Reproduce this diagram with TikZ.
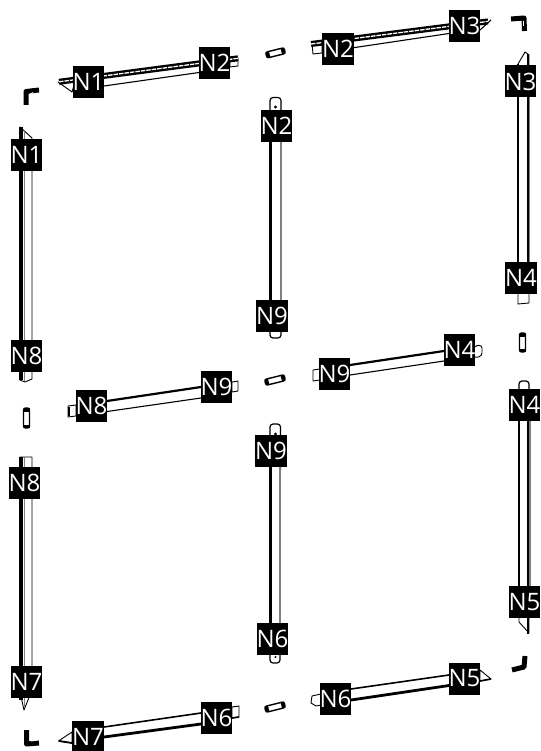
\documentclass[tikz,border=0pt]{standalone}
\usepackage{fontspec}
\setmainfont{Open Sans}
\tikzset{
  lab/.style={fill=black,text=white,inner sep=0pt,minimum width=31pt,minimum height=32pt,font=\fontsize{24}{24}\selectfont},
  hair/.style={draw=black,line width=0.9pt,fill=white,line join=round},
  tab/.style={draw=black,line width=1.2pt,fill=white,rounded corners=3pt},
  heavy/.style={draw=black,line width=2.2pt},
  thinline/.style={draw=black,line width=1.1pt},
  greyline/.style={draw=black!50,line width=1.6pt},
  band/.style={draw=black,line width=6pt},
  bandgap/.style={draw=white,line width=1.3pt,dash pattern=on 4.5pt off 1pt},
  pin/.style={draw=black,line width=1.4pt,fill=white,rounded corners=2pt},
  pinend/.style={fill=black},
  corner/.style={draw=black,line width=5pt,line join=round},
  cornerhi/.style={draw=white,line width=0.9pt}
}
\begin{document}
\begin{tikzpicture}[x=1pt,y=-1pt]
\useasboundingbox (0,0) rectangle (540,751);
% left upper vertical
\draw[hair] (20,127) -- (32,138) -- (32,379) -- (25,382) -- (20,380) -- cycle;
\fill (19,127) rectangle (22.5,380);
\draw[greyline] (24.5,131) -- (24.5,381);
% left lower vertical
\draw[hair] (20,457) -- (32,457) -- (32,690) -- (24,710) -- (20,692) -- cycle;
\fill (19,457) rectangle (22.5,700);
\draw[greyline] (24.5,457) -- (24.5,708);
% mid upper vertical
\draw[tab] (270,150) -- (270,97.5) -- (281,97.5) -- (281,150);
\draw[tab] (270,300) -- (270,338) -- (281,338) -- (281,300);
\fill (269,140) rectangle (272,305);
\draw[greyline] (281,140) -- (281,305);
\fill (275.5,107) circle (1.6);
% mid lower vertical
\draw[tab] (270,470) -- (270,424) -- (280.5,424) -- (280.5,470);
\draw[tab] (270,620) -- (270,663) -- (280,663) -- (280,620);
\fill (269,465) rectangle (272,625);
\draw[greyline] (280,465) -- (280,625);
\fill (275.5,434) circle (1.6);
\fill (275.5,657) circle (1.2);
% right upper vertical
\draw[hair] (518,64) -- (525,52) -- (529,55) -- (529,303) -- (518,304) -- cycle;
\fill (517,64) rectangle (519.3,290);
\fill (526.5,54) rectangle (528.5,290);
\draw[greyline] (529.5,65) -- (529.5,290);
% right lower vertical
\draw[tab] (519,420) -- (519,381) -- (529,381) -- (529,420);
\draw[hair] (519,400) -- (519,622) -- (529,633) -- (529,400);
\fill (518,392) rectangle (520.3,600);
\fill (527,392) rectangle (529,634);
\draw[greyline] (530,392) -- (530,590);
% top-left rail
\draw[hair] (58,82) -- (72,92) -- (75,82) -- cycle;
\draw[hair] (230,67) -- (238,66) -- (238,58) -- (230,59) -- cycle;
\draw[band] (59,81.8) -- (238,58.3);
\draw[bandgap] (59,81.8) -- (238,58.3);
\draw[thinline] (104,86) -- (199,72.5);
% top-right rail
\draw[hair] (312,44) -- (313,54) -- (322,53) -- (322,43) -- cycle;
\draw[band] (311,44) -- (488,21.4);
\draw[bandgap] (311,44) -- (488,21.4);
\draw[thinline] (353,47.8) -- (449,33.5);
\draw[thinline] (480,30) -- (491,20);
% middle-left rail
\draw[hair] (68,406) -- (68,417) -- (76,416) -- (76,405) -- cycle;
\draw[hair] (232,382) -- (238,381) -- (238,391) -- (232,392) -- cycle;
\draw[line width=2.2pt,black] (69,407) -- (69,416);
\draw[heavy] (107,401) -- (201,387);
\draw[thinline] (107,411.5) -- (201,398);
% middle-right rail
\draw[hair,rounded corners=3pt] (474,346) -- (482,345) -- (482,356) -- (474,358) -- cycle;
\draw[hair] (313,370) -- (313,381) -- (320,380) -- (320,369) -- cycle;
\draw[heavy] (350,365) -- (444,351);
\draw[thinline] (350,375) -- (444,361);
% bottom-left rail
\draw[hair] (58.5,741) -- (72,732) -- (72,743) -- cycle;
\draw[line width=1.8pt] (59,741) -- (72,743);
\draw[hair] (232,707) -- (239,706) -- (239,717) -- (232,718) -- cycle;
\draw[line width=1.6pt] (232,718) -- (239,717);
\draw[line width=1.6pt] (104,727) -- (201,713);
\draw[line width=2.8pt] (104,737) -- (201,724);
% bottom-right rail
\draw[hair] (312,696) -- (311,703) -- (316,706) -- (321,705) -- (321,694) -- cycle;
\draw[line width=1.6pt] (351,689) -- (449,675);
\draw[line width=2.8pt] (351,700) -- (449,685.5);
\draw[hair] (480,670) -- (491,679) -- (480,681) -- cycle;
\draw[line width=1.6pt] (480,681) -- (491,679);
% pins
\draw[pin,rotate around={14:(275,53)}] (266,50) rectangle (285,56);
\fill[pinend,rotate around={14:(275,53)}] (266,50) rectangle (269.5,56);
\fill[pinend,rotate around={14:(275,53)}] (281.5,50) rectangle (285,56);
\draw[pin,rotate around={14:(275,380)}] (265,377) rectangle (285,383);
\fill[pinend,rotate around={14:(275,380)}] (265,377) rectangle (268.5,383);
\fill[pinend,rotate around={14:(275,380)}] (281.5,377) rectangle (285,383);
\draw[pin,rotate around={14:(275,707)}] (265,704) rectangle (285,710);
\fill[pinend,rotate around={14:(275,707)}] (265,704) rectangle (268.5,710);
\fill[pinend,rotate around={14:(275,707)}] (281.5,704) rectangle (285,710);
\draw[pin] (23.5,408) rectangle (29.5,428);
\fill[pinend] (23.5,408) rectangle (29.5,411.5);
\fill[pinend] (23.5,424.5) rectangle (29.5,428);
\draw[pin] (519.5,333) rectangle (525.5,352);
\fill[pinend] (519.5,333) rectangle (525.5,336.5);
\fill[pinend] (519.5,348.5) rectangle (525.5,352);
% corners
\draw[corner] (26,105) -- (26,91.5) -- (39,90);
\draw[cornerhi] (29,95) -- (33,92.5);
\draw[corner] (26.5,730) -- (26.5,744) -- (39,743);
\draw[cornerhi] (31,741) -- (37,740);
\draw[corner] (511,19) -- (524,18) -- (524.5,31);
\draw[cornerhi] (523,21) -- (523,26);
\draw[corner] (512,670) -- (524,667) -- (525,656);
\draw[cornerhi] (520,661) -- (520,665);
% labels
\node[lab] (a1) at (88.5,82) {N1};
\node[lab] (a2) at (214.5,63) {N2};
\node[lab] (b1) at (26.5,155) {N1};
\node[lab] (b2) at (276.5,126) {N2};
\node[lab] (c2) at (338,49) {N2};
\node[lab] (c3) at (464.5,26) {N3};
\node[lab] (d3) at (520.5,81.5) {N3};
\node[lab] (d4) at (521,278) {N4};
\node[lab] (e8) at (26.5,356) {N8};
\node[lab] (f8) at (91.5,406) {N8};
\node[lab] (f9) at (216.5,387) {N9};
\node[lab] (g8) at (24.5,483) {N8};
\node[lab] (h9) at (272,316) {N9};
\node[lab] (i9) at (271,451) {N9};
\node[lab] (j9) at (334.5,374) {N9};
\node[lab] (j4) at (459.5,349.5) {N4};
\node[lab] (k4) at (524.5,404.5) {N4};
\node[lab] (l7) at (26.5,682) {N7};
\node[lab] (m7) at (88,736.5) {N7};
\node[lab] (m6) at (216.5,718) {N6};
\node[lab] (n6) at (272.5,638.5) {N6};
\node[lab] (o5) at (524.5,602) {N5};
\node[lab] (p5) at (464.5,678.5) {N5};
\node[lab] (p6) at (335.5,699) {N6};
\end{tikzpicture}
\end{document}
